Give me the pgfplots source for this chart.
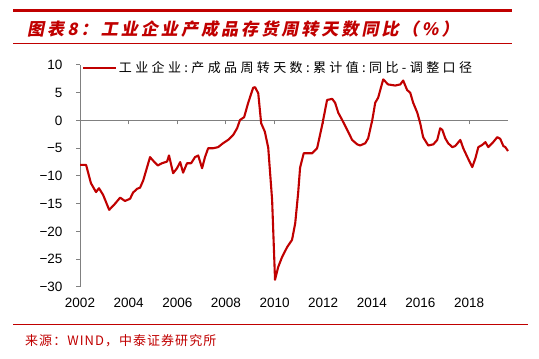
\documentclass[border=0pt]{standalone}
\usepackage{pgfplots}
\pgfplotsset{compat=1.18}
\usepackage{fontspec}
\setmainfont{Liberation Sans}
\newfontfamily\cjk[LetterSpace=26]{Noto Sans CJK SC}
\newfontfamily\titlefont[FakeSlant=0.2,LetterSpace=18]{Noto Sans CJK SC}
\newfontfamily\srcfont[LetterSpace=8]{Noto Sans CJK SC}
\definecolor{zred}{RGB}{192,0,0}
\definecolor{axgray}{RGB}{128,128,128}
\begin{document}
\begin{tikzpicture}
\useasboundingbox (0,0) rectangle (539pt,359pt);
\draw[zred, line width=2.4pt] (13pt,348.5pt) -- (512pt,348.5pt);
\draw[zred, line width=0.9pt] (13pt,316pt) -- (512pt,316pt);
\node[anchor=west, text=zred, font=\fontsize{17}{20}\selectfont\titlefont\bfseries, inner sep=0pt] at (27pt,329.5pt) {图表8：工业企业产成品存货周转天数同比（\%）};
\draw[zred, line width=0.9pt] (13pt,35pt) -- (528pt,35pt);
\node[anchor=west, text=zred, font=\fontsize{13}{15}\selectfont\srcfont, inner sep=0pt] at (25pt,18.3pt) {来源：WIND，中泰证券研究所};
\begin{axis}[
  at={(80pt,72pt)}, anchor=south west, scale only axis,
  width=428pt, height=222pt,
  xmin=2002, xmax=2019.6, ymin=-30, ymax=10,
  axis x line*=middle,
  axis y line*=left,
  hide obscured x ticks=false,
  hide obscured y ticks=false,
  x axis line style={axgray, line width=0.9pt},
  y axis line style={axgray, line width=1pt},
  xtick={2002,2004,2006,2008,2010,2012,2014,2016,2018},
  xticklabels={2002,2004,2006,2008,2010,2012,2014,2016,2018},
  ytick={-30,-25,-20,-15,-10,-5,0,5,10},
  yticklabels={−30,−25,−20,−15,−10,−5,0,5,10},
  x tick style={axgray, line width=0.9pt, yshift=-2pt},
  y tick style={axgray, line width=1pt},
  xtick align=center,
  ytick align=outside,
  major tick length=4pt,
  ticklabel style={font=\fontsize{13.5}{16}\selectfont},
  yticklabel style={xshift=-10pt},
  xticklabel style={yshift=-172pt},
  clip=false,
  legend image code/.code={\draw[#1] (0pt,0pt) -- (33pt,0pt);},
  legend style={draw=none, fill=none, at={(0.005,0.986)}, anchor=west,
    inner sep=0pt, nodes={inner sep=1.5pt},
    font=\fontsize{13}{15}\selectfont\cjk},
  legend cell align=left,
]
\addplot[zred, line width=2.1pt, line join=round] coordinates {
(2002.0,-8.0) (2002.25,-8.0) (2002.45,-11.3) (2002.66,-12.9) (2002.78,-12.2)
(2002.95,-13.4) (2003.2,-16.1) (2003.4,-15.2) (2003.65,-13.9) (2003.85,-14.5)
(2004.06,-14.1) (2004.18,-13.0) (2004.35,-12.3) (2004.47,-12.1) (2004.6,-10.8)
(2004.76,-8.4) (2004.88,-6.6) (2005.0,-7.2) (2005.2,-8.1) (2005.37,-7.7)
(2005.58,-7.4) (2005.66,-6.3) (2005.83,-9.5) (2005.99,-8.6) (2006.12,-7.5)
(2006.24,-9.4) (2006.4,-7.7) (2006.57,-7.7) (2006.73,-6.6) (2006.86,-6.3)
(2007.02,-8.6) (2007.14,-6.6) (2007.27,-5.0) (2007.47,-5.0) (2007.68,-4.8)
(2007.88,-4.1) (2008.09,-3.5) (2008.3,-2.6) (2008.46,-1.4) (2008.58,0.1)
(2008.75,0.6) (2008.91,3.1) (2009.12,5.9) (2009.2,6.0) (2009.33,4.9)
(2009.45,-0.5) (2009.6,-2.0) (2009.74,-4.9) (2009.9,-14.3) (2010.02,-28.7)
(2010.15,-26.4) (2010.31,-24.6) (2010.52,-22.8) (2010.72,-21.5) (2010.85,-18.5)
(2010.97,-13.1) (2011.05,-8.5) (2011.2,-5.9) (2011.55,-5.9) (2011.75,-5.0)
(2011.96,-0.8) (2012.16,3.7) (2012.37,3.9) (2012.49,3.2) (2012.62,1.4)
(2012.78,0.1) (2012.99,-1.7) (2013.19,-3.5) (2013.4,-4.3) (2013.52,-4.5)
(2013.73,-4.1) (2013.85,-3.2) (2014.02,0.1) (2014.14,3.2) (2014.26,4.1)
(2014.43,6.8) (2014.47,7.4) (2014.67,6.5) (2014.96,6.3) (2015.17,6.5)
(2015.29,7.2) (2015.45,5.5) (2015.58,5.0) (2015.7,3.2) (2015.87,1.4)
(2015.99,-0.5) (2016.11,-3.0) (2016.32,-4.5) (2016.53,-4.3) (2016.69,-3.5)
(2016.81,-1.4) (2016.9,-1.7) (2017.02,-3.2) (2017.14,-4.1) (2017.31,-4.8)
(2017.43,-4.6) (2017.64,-3.5) (2017.76,-5.0) (2017.93,-6.6) (2018.13,-8.4)
(2018.26,-6.8) (2018.38,-4.8) (2018.54,-4.4) (2018.67,-3.9) (2018.79,-4.8)
(2018.99,-3.9) (2019.16,-3.0) (2019.28,-3.3) (2019.41,-4.6) (2019.49,-4.8)
(2019.6,-5.5)
};
\addlegendentry{工业企业:产成品周转天数:累计值:同比-调整口径}
\end{axis}
\end{tikzpicture}
\end{document}
